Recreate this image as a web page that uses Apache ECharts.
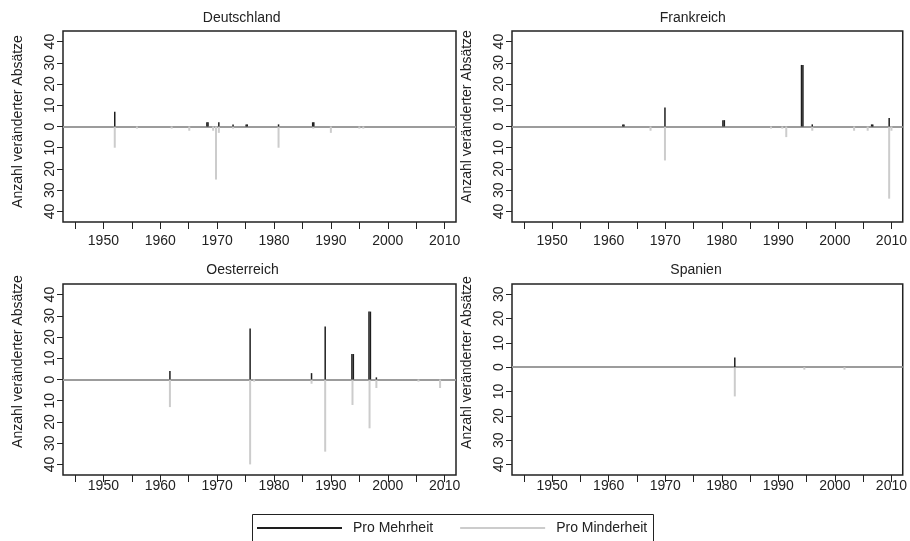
<!DOCTYPE html>
<html>
<head>
<meta charset="utf-8">
<script src="https://cdn.jsdelivr.net/npm/echarts@6/dist/echarts.min.js"></script>
<style>
html,body{margin:0;padding:0;background:#fff;}
#main{width:910px;height:541px;}
</style>
</head>
<body>
<div id="main"></div>
<script>
// ---- data ----
const panels = ['Deutschland', 'Frankreich', 'Oesterreich', 'Spanien'];
const seriesNames = ['Pro Mehrheit', 'Pro Minderheit'];
const xTicks = [1945, 1950, 1955, 1960, 1965, 1970, 1975, 1980, 1985, 1990, 1995, 2000, 2005, 2010];
const xLabels = [1950, 1960, 1970, 1980, 1990, 2000, 2010];
const yTicks = [-40, -30, -20, -10, 0, 10, 20, 30, 40];
const yTicksSpanien = [-40, -30, -20, -10, 0, 10, 20, 30];

// Deutschland
const deMehrYears = [1952.0, 1968.2, 1968.4, 1970.3, 1972.8, 1975.1, 1975.3, 1980.8, 1986.8, 1987.0];
const deMehr      = [7, 2, 2, 2, 1, 1, 1, 1, 2, 2];
const deMinYears  = [1952.0, 1955.9, 1962.0, 1965.1, 1969.3, 1969.8, 1970.3, 1972.8, 1980.8, 1986.9, 1990.0, 1995.0, 1995.7];
const deMin       = [10, 1, 1, 2, 2, 25, 3, 1, 10, 1, 3, 1, 1];

// Frankreich
const frMehrYears = [1962.5, 1962.7, 1969.95, 1980.2, 1980.45, 1994.1, 1994.35, 1996.0, 2006.5, 2006.7, 2009.6];
const frMehr      = [1, 1, 9, 3, 3, 29, 29, 1, 1, 1, 4];
const frMinYears  = [1967.4, 1969.95, 1988.7, 1990.7, 1991.4, 1996.0, 2003.4, 2005.8, 2009.6, 2010.0];
const frMin       = [2, 16, 1, 1, 5, 2, 2, 2, 34, 2];

// Oesterreich
const atMehrYears = [1961.7, 1975.8, 1986.6, 1989.0, 1993.7, 1993.95, 1996.7, 1996.95, 1998.0];
const atMehr      = [4, 24, 3, 25, 12, 12, 32, 32, 1];
const atMinYears  = [1961.7, 1975.8, 1976.5, 1986.6, 1989.0, 1993.8, 1996.8, 1998.0, 2005.4, 2009.2];
const atMin       = [13, 40, 1, 2, 34, 12, 23, 4, 1, 4];

// Spanien
const esMehrYears = [1982.3];
const esMehr      = [4];
const esMinYears  = [1982.3, 1994.6, 2001.7];
const esMin       = [12, 1, 1];

// ---- layout / style ----
const FONT = 'Liberation Sans, Arial, Helvetica, sans-serif';
const TXT = '#222222';
const DARK = '#1e1e1e';
const LIGHT = '#cccccc';
const ZERO = '#9c9c9c';

const grids = [
  {left: 63, top: 31, width: 393, height: 191},
  {left: 512, top: 31, width: 391, height: 191},
  {left: 63, top: 284, width: 393, height: 191},
  {left: 512, top: 284, width: 391, height: 191}
];
const yRanges = [[-45, 45], [-45, 45], [-45, 45], [-44.3, 34.2]];
const xLabelMargins = [12, 12, 4, 4];
const yNameShift = [5, 10, 18, 17];
const mehrData = [[deMehrYears, deMehr], [frMehrYears, frMehr], [atMehrYears, atMehr], [esMehrYears, esMehr]];
const minData  = [[deMinYears, deMin], [frMinYears, frMin], [atMinYears, atMin], [esMinYears, esMin]];
const titlePos = [[241.7, 18.3], [692.8, 18.3], [242.5, 270.5], [696, 270.5]];

function makeBars(name, gi, years, vals, sign, color, width, withZero) {
  const s = {
    name: name,
    type: 'custom',
    xAxisIndex: gi,
    yAxisIndex: gi,
    coordinateSystem: 'cartesian2d',
    encode: {x: 0, y: 1},
    itemStyle: {color: color},
    silent: true,
    data: years.map((y, i) => [y, sign * vals[i]]),
    renderItem: function (params, api) {
      const p0 = api.coord([api.value(0), 0]);
      const p1 = api.coord([api.value(0), api.value(1)]);
      return {
        type: 'line',
        shape: {x1: p0[0], y1: p0[1], x2: p1[0], y2: p1[1]},
        style: {stroke: color, lineWidth: width}
      };
    }
  };
  if (withZero) {
    s.markLine = {
      silent: true, symbol: 'none', label: {show: false},
      lineStyle: {color: ZERO, width: 2, type: 'solid'},
      data: [{yAxis: 0}],
      z: 1
    };
  }
  return s;
}

const option = {
  animation: false,
  backgroundColor: '#ffffff',
  textStyle: {fontFamily: FONT},
  grid: grids.map(g => Object.assign({show: true, borderColor: '#222', borderWidth: 1.5, backgroundColor: 'transparent', containLabel: false}, g)),
  xAxis: grids.map((g, i) => ({
    type: 'value', gridIndex: i, min: 1942.9, max: 2012,
    position: 'bottom',
    axisLine: {show: false, onZero: false},
    splitLine: {show: false},
    axisTick: {show: true, customValues: xTicks, length: 7, lineStyle: {color: '#222', width: 1}},
    axisLabel: {customValues: xLabels, fontSize: 14, color: TXT, fontFamily: FONT, margin: xLabelMargins[i],
      formatter: v => String(v)}
  })),
  yAxis: grids.map((g, i) => ({
    type: 'value', gridIndex: i, min: yRanges[i][0], max: yRanges[i][1],
    position: 'left',
    name: 'Anzahl veränderter Absätze',
    nameLocation: 'middle', nameRotate: 90, nameGap: 38,
    nameTextStyle: {fontSize: 14, color: TXT, fontFamily: FONT, padding: [0, 0, 0, 2 * yNameShift[i]]},
    axisLine: {show: false, onZero: false},
    splitLine: {show: false},
    axisTick: {show: true, customValues: i === 3 ? yTicksSpanien : yTicks, length: 6, lineStyle: {color: '#222', width: 1}},
    axisLabel: {customValues: i === 3 ? yTicksSpanien : yTicks, rotate: 90, fontSize: 14, color: TXT, fontFamily: FONT, margin: 6,
      formatter: v => String(Math.abs(v))}
  })),
  legend: {
    left: 257, top: 521,
    itemWidth: 85, itemHeight: 2, itemGap: 27,
    icon: 'rect',
    padding: 0,
    textStyle: {fontSize: 14, color: TXT, fontFamily: FONT, padding: [0, 0, 0, 6]},
    data: seriesNames
  },
  graphic: [
    {type: 'rect', shape: {x: 252.5, y: 514.5, width: 401, height: 60}, style: {fill: 'none', stroke: '#222', lineWidth: 1}, silent: true}
  ].concat(panels.map((p, i) => ({
    type: 'text', x: titlePos[i][0], y: titlePos[i][1], silent: true,
    style: {text: p, textAlign: 'center', textVerticalAlign: 'middle', font: '14px ' + FONT, fill: TXT}
  }))),
  series: []
};

for (let i = 0; i < 4; i++) {
  option.series.push(makeBars(seriesNames[1], i, minData[i][0], minData[i][1], -1, LIGHT, 2, true));
  option.series.push(makeBars(seriesNames[0], i, mehrData[i][0], mehrData[i][1], 1, DARK, 1.5, false));
}

const chart = echarts.init(document.getElementById('main'), null, {renderer: 'canvas'});
chart.setOption(option);
</script>
</body>
</html>
